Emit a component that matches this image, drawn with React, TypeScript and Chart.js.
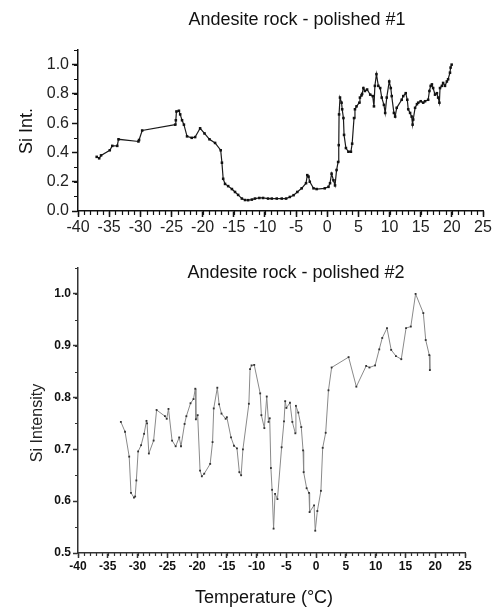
import React, { useEffect, useRef } from "react";
import { Chart, registerables } from "chart.js";

Chart.register(...registerables);

const FONT = "'Liberation Sans', Arial, Helvetica, sans-serif";

// ---------- Data: Andesite rock - polished #1 ----------
const polished1Temp = [
  -37.0, -36.6, -36.3, -34.9, -34.5, -33.7, -33.5, -30.3, -30.2, -29.7,
  -24.4, -24.3, -24.2, -23.8, -23.6, -23.3, -23.0, -22.5, -21.75, -21.2,
  -20.4, -19.7, -18.9, -18.0, -17.1, -16.9, -16.7, -16.4, -15.9, -15.3,
  -14.8, -14.3, -13.7, -13.2, -12.7, -12.1, -11.6, -10.9, -10.3, -9.5,
  -8.9, -8.1, -7.3, -6.6, -6.0, -5.4, -4.8, -4.1, -3.4, -3.2,
  -3.0, -2.8, -2.2, -1.7, -0.4, 0.2, 0.45, 0.7, 1.0, 1.25,
  1.5, 1.75, 1.85, 1.9, 2.05, 2.3, 2.4, 2.6, 2.7, 3.0,
  3.4, 3.8, 4.0, 4.3, 4.45, 4.7, 5.15, 5.25, 5.5, 5.6,
  5.8, 6.05, 6.4, 6.9, 7.3, 7.5, 7.65, 7.9, 8.2, 8.5,
  8.75, 9.1, 9.3, 9.55, 9.95, 10.2, 10.35, 10.7, 10.9, 11.15,
  11.95, 12.2, 12.6, 12.85, 13.0, 13.3, 13.55, 13.7, 13.8, 14.1,
  14.4, 14.6, 15.0, 15.4, 15.7, 16.2, 16.4, 16.6, 16.8, 17.0,
  17.3, 17.6, 17.8, 18.0, 18.1, 18.4, 18.6, 18.9, 19.2, 19.4,
  19.7, 19.8, 19.97,
];
const polished1Si = [
  0.37, 0.36, 0.38, 0.415, 0.445, 0.445, 0.49, 0.475, 0.485, 0.55,
  0.59, 0.62, 0.68, 0.685, 0.66, 0.62, 0.59, 0.51, 0.5, 0.505,
  0.565, 0.53, 0.49, 0.465, 0.415, 0.33, 0.22, 0.185, 0.17, 0.15,
  0.13, 0.11, 0.085, 0.075, 0.074, 0.078, 0.085, 0.089, 0.089, 0.085,
  0.085, 0.085, 0.085, 0.085, 0.096, 0.108, 0.13, 0.155, 0.19, 0.245,
  0.235, 0.2, 0.155, 0.15, 0.155, 0.165, 0.19, 0.255, 0.21, 0.175,
  0.28, 0.335, 0.45, 0.66, 0.775, 0.74, 0.695, 0.635, 0.52, 0.43,
  0.405, 0.405, 0.46, 0.635, 0.695, 0.715, 0.74, 0.775, 0.79, 0.8,
  0.84, 0.82, 0.83, 0.795, 0.785, 0.715, 0.855, 0.935, 0.855, 0.84,
  0.775, 0.725, 0.67, 0.775, 0.885, 0.84, 0.785, 0.67, 0.645, 0.705,
  0.76, 0.785, 0.805, 0.76, 0.695, 0.67, 0.645, 0.59, 0.625, 0.705,
  0.73, 0.74, 0.75, 0.74, 0.75, 0.76, 0.82, 0.855, 0.865, 0.84,
  0.795, 0.805, 0.775, 0.74, 0.84, 0.855, 0.875, 0.855, 0.885, 0.9,
  0.945, 0.98, 1.0,
];

// ---------- Data: Andesite rock - polished #2 ----------
const polished2Temp = [
  -32.8, -32.1, -31.4, -31.1, -30.6, -30.4, -30.2, -29.9, -29.4, -28.9,
  -28.5, -28.4, -28.1, -27.3, -26.8, -25.4, -25.1, -24.8, -24.2, -23.6,
  -23.0, -22.7, -22.1, -21.8, -21.1, -20.6, -20.3, -20.2, -19.9, -19.5,
  -19.2, -18.8, -17.8, -17.4, -17.2, -16.6, -16.3, -15.9, -15.2, -15.0,
  -14.3, -13.8, -13.3, -12.9, -12.6, -12.3, -11.3, -11.1, -10.85, -10.4,
  -9.4, -9.2, -8.7, -8.3, -8.0, -7.8, -7.6, -7.4, -7.15, -6.9,
  -6.5, -5.8, -5.4, -5.2, -5.0, -4.4, -4.0, -3.5, -3.4, -3.0,
  -2.5, -2.2, -2.1, -1.6, -1.2, -1.1, -0.35, -0.15, 0.2, 0.8,
  1.1, 1.6, 2.07, 2.6, 5.45, 6.75, 8.4, 8.95, 9.9, 10.6,
  11.1, 11.9, 12.6, 13.4, 14.3, 15.1, 15.9, 16.7, 18.0, 18.4,
  19.0, 19.1,
];
const polished2Si = [
  0.753, 0.734, 0.686, 0.616, 0.607, 0.609, 0.64, 0.696, 0.708, 0.73,
  0.755, 0.75, 0.692, 0.717, 0.776, 0.764, 0.759, 0.778, 0.717, 0.706,
  0.723, 0.706, 0.749, 0.764, 0.789, 0.797, 0.817, 0.758, 0.766, 0.659,
  0.648, 0.653, 0.672, 0.714, 0.779, 0.819, 0.787, 0.769, 0.759, 0.762,
  0.723, 0.707, 0.702, 0.656, 0.65, 0.7, 0.788, 0.855, 0.862, 0.863,
  0.808, 0.766, 0.741, 0.802, 0.753, 0.76, 0.664, 0.622, 0.547, 0.614,
  0.604, 0.704, 0.754, 0.793, 0.78, 0.79, 0.753, 0.731, 0.784, 0.771,
  0.743, 0.698, 0.656, 0.625, 0.616, 0.579, 0.592, 0.543, 0.581, 0.62,
  0.703, 0.732, 0.814, 0.858, 0.878, 0.821, 0.861, 0.858, 0.862, 0.893,
  0.915, 0.934, 0.892, 0.88, 0.874, 0.934, 0.937, 1.0, 0.963, 0.911,
  0.882, 0.853,
];

const TITLE1 = "Andesite rock - polished #1";
const TITLE2 = "Andesite rock - polished #2";
const YLABEL1 = "Si Int.";
const YLABEL2 = "Si Intensity";
const XLABEL = "Temperature (°C)";

type TextItem = { text: string; x: number; y: number; size: number; rotate?: boolean; bold?: boolean; color?: string };

function makeTextPlugin(items: TextItem[]) {
  return {
    id: "texts",
    afterDraw(chart: any) {
      const ctx = chart.ctx;
      items.forEach((it) => {
        ctx.save();
        ctx.font = `${it.bold ? "bold " : ""}${it.size}px ${FONT}`;
        ctx.fillStyle = it.color || "#111";
        ctx.textAlign = "center";
        ctx.textBaseline = "middle";
        ctx.translate(it.x, it.y);
        if (it.rotate) ctx.rotate(-Math.PI / 2);
        ctx.fillText(it.text, 0, 0);
        ctx.restore();
      });
    },
  };
}

type MinorCfg = { xmin: number; xmax: number; xstep: number; ymin: number; ymax: number; ystep: number; len: number; color: string; width: number };

function makeMinorTicks(cfg: MinorCfg) {
  return {
    id: "minorTicks",
    afterDraw(chart: any) {
      const ctx = chart.ctx;
      const xs = chart.scales.x;
      const ys = chart.scales.y;
      ctx.save();
      ctx.strokeStyle = cfg.color;
      ctx.lineWidth = cfg.width;
      ctx.beginPath();
      const nx = Math.round((cfg.xmax - cfg.xmin) / cfg.xstep);
      for (let i = 0; i <= nx; i++) {
        const px = Math.round(xs.getPixelForValue(cfg.xmin + i * cfg.xstep)) + 0.5;
        ctx.moveTo(px, xs.top);
        ctx.lineTo(px, xs.top + cfg.len);
      }
      const ny = Math.round((cfg.ymax - cfg.ymin) / cfg.ystep);
      for (let i = 0; i <= ny; i++) {
        const py = Math.round(ys.getPixelForValue(cfg.ymin + i * cfg.ystep)) + 0.5;
        ctx.moveTo(ys.right, py);
        ctx.lineTo(ys.right - cfg.len, py);
      }
      ctx.stroke();
      ctx.restore();
    },
  };
}

function toPoints(xs: number[], ys: number[]) {
  return xs.map((x, i) => ({ x, y: ys[i] }));
}

export default function App() {
  const topRef = useRef<HTMLCanvasElement>(null);
  const botRef = useRef<HTMLCanvasElement>(null);

  useEffect(() => {
    const topChart = new Chart(topRef.current as HTMLCanvasElement, {
      type: "scatter",
      data: {
        datasets: [
          {
            data: toPoints(polished1Temp, polished1Si),
            showLine: true,
            borderColor: "#1a1a1a",
            borderWidth: 1.2,
            pointStyle: "rect",
            pointRadius: 1.8,
            pointBackgroundColor: "#111",
            pointBorderColor: "#111",
            pointBorderWidth: 0,
          },
        ],
      },
      options: {
        responsive: false,
        animation: false,
        events: [],
        layout: { padding: { top: 50, right: 15, left: 0, bottom: 0 } },
        plugins: { legend: { display: false }, tooltip: { enabled: false }, title: { display: false } },
        scales: {
          x: {
            type: "linear",
            min: -40,
            max: 25,
            ticks: { stepSize: 5, autoSkip: false, maxRotation: 0, padding: 1, color: "#222", font: { family: FONT, size: 16 } },
            grid: { display: true, drawOnChartArea: false, drawTicks: true, tickLength: 6, tickColor: "#111", tickWidth: 1.5 },
            border: { display: true, color: "#111", width: 1.5 },
            afterFit: (s: any) => { s.height = 29; },
          },
          y: {
            type: "linear",
            min: 0,
            max: 1.1,
            ticks: {
              stepSize: 0.2,
              includeBounds: false,
              padding: 3,
              color: "#222",
              font: { family: FONT, size: 16 },
              callback: (v: any) => Number(v).toFixed(1),
            },
            grid: { display: true, drawOnChartArea: false, drawTicks: true, tickLength: 6, tickColor: "#111", tickWidth: 1.5 },
            border: { display: true, color: "#111", width: 1.5 },
            afterFit: (s: any) => { s.width = 78; },
          },
        },
      },
      plugins: [
        makeMinorTicks({ xmin: -40, xmax: 25, xstep: 1, ymin: 0, ymax: 1.1, ystep: 0.1, len: 4, color: "#111", width: 1.2 }),
        makeTextPlugin([
          { text: TITLE1, x: 297, y: 20, size: 18 },
          { text: YLABEL1, x: 27, y: 131, size: 18, rotate: true },
        ]),
      ],
    } as any);

    const botChart = new Chart(botRef.current as HTMLCanvasElement, {
      type: "scatter",
      data: {
        datasets: [
          {
            data: toPoints(polished2Temp, polished2Si),
            showLine: true,
            borderColor: "#8a8a8a",
            borderWidth: 1,
            pointStyle: "rect",
            pointRadius: 1.3,
            pointBackgroundColor: "#333",
            pointBorderColor: "#333",
            pointBorderWidth: 0,
          },
        ],
      },
      options: {
        responsive: false,
        animation: false,
        events: [],
        layout: { padding: { top: 28, right: 33, left: 0, bottom: 0 } },
        plugins: { legend: { display: false }, tooltip: { enabled: false }, title: { display: false } },
        scales: {
          x: {
            type: "linear",
            min: -40,
            max: 25,
            ticks: { stepSize: 5, autoSkip: false, maxRotation: 0, padding: 1, color: "#111", font: { family: FONT, size: 12, weight: "bold" } },
            grid: { display: true, drawOnChartArea: false, drawTicks: true, tickLength: 5, tickColor: "#333", tickWidth: 1.5 },
            border: { display: true, color: "#333", width: 1.5 },
            afterFit: (s: any) => { s.height = 55; },
          },
          y: {
            type: "linear",
            min: 0.5,
            max: 1.05,
            ticks: {
              stepSize: 0.1,
              includeBounds: false,
              padding: 2,
              color: "#111",
              font: { family: FONT, size: 12, weight: "bold" },
              callback: (v: any) => Number(v).toFixed(1),
            },
            grid: { display: true, drawOnChartArea: false, drawTicks: true, tickLength: 5, tickColor: "#333", tickWidth: 1.5 },
            border: { display: true, color: "#333", width: 1.5 },
            afterFit: (s: any) => { s.width = 78; },
          },
        },
      },
      plugins: [
        makeMinorTicks({ xmin: -40, xmax: 25, xstep: 1, ymin: 0.5, ymax: 1.05, ystep: 0.05, len: 3, color: "#333", width: 1.2 }),
        makeTextPlugin([
          { text: TITLE2, x: 296, y: 33, size: 18 },
          { text: YLABEL2, x: 38, y: 183, size: 16, rotate: true, color: "#222" },
          { text: XLABEL, x: 264, y: 358, size: 18 },
        ]),
      ],
    } as any);

    return () => {
      topChart.destroy();
      botChart.destroy();
    };
  }, []);

  return (
    <div style={{ position: "absolute", left: 0, top: 0, width: 498, height: 608, background: "#fff", overflow: "hidden" }}>
      <canvas ref={topRef} width={498} height={240} style={{ position: "absolute", left: 0, top: 0, width: 498, height: 240, display: "block" }} />
      <canvas ref={botRef} width={498} height={368} style={{ position: "absolute", left: 0, top: 240, width: 498, height: 368, display: "block" }} />
    </div>
  );
}
